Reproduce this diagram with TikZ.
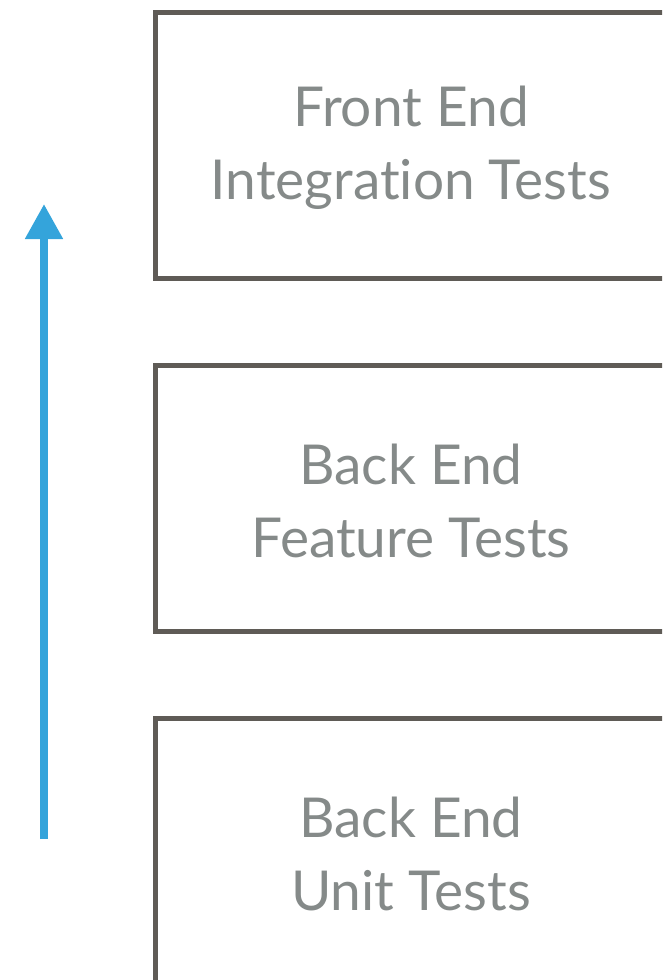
\documentclass[tikz,border=0pt]{standalone}
\usepackage{fontspec}
\setmainfont{Lato}[Ligatures=NoCommon]
\usetikzlibrary{arrows.meta}
\definecolor{boxline}{HTML}{5F5B56}
\definecolor{labelgray}{HTML}{858A89}
\definecolor{flowblue}{HTML}{34A4DB}
\begin{document}
\begin{tikzpicture}[x=1pt,y=1pt,
  layerbox/.style={draw=boxline,line width=5pt,minimum width=560pt,minimum height=266pt,anchor=north west,inner sep=0pt,outer sep=0pt},
  layerlabel/.style={text=labelgray,font=\fontsize{55}{73}\selectfont,align=center,inner sep=0pt},
  flow/.style={draw=flowblue,line width=8pt,-{Triangle[width=36pt,length=35pt]}}]
\useasboundingbox (0,0) rectangle (662,-980);
\clip (0,0) rectangle (662,-980);
% three stacked test layers
\node[layerbox] (fe) at (155,-12) {};
\node[layerbox] (bf) at (155,-365) {};
\node[layerbox] (bu) at (155,-718) {};
\node[layerlabel] (fel) at (411,-148) {Front End\\Integration Tests};
\node[layerlabel] (bfl) at (411,-501) {Back End\\Feature Tests};
\node[layerlabel] (bul) at (411,-854) {Back End\\Unit Tests};
% upward arrow
\coordinate (lo) at (44,-839);
\coordinate (hi) at (44,-204);
\draw[flow] (lo) -- (hi);
\end{tikzpicture}
\end{document}
